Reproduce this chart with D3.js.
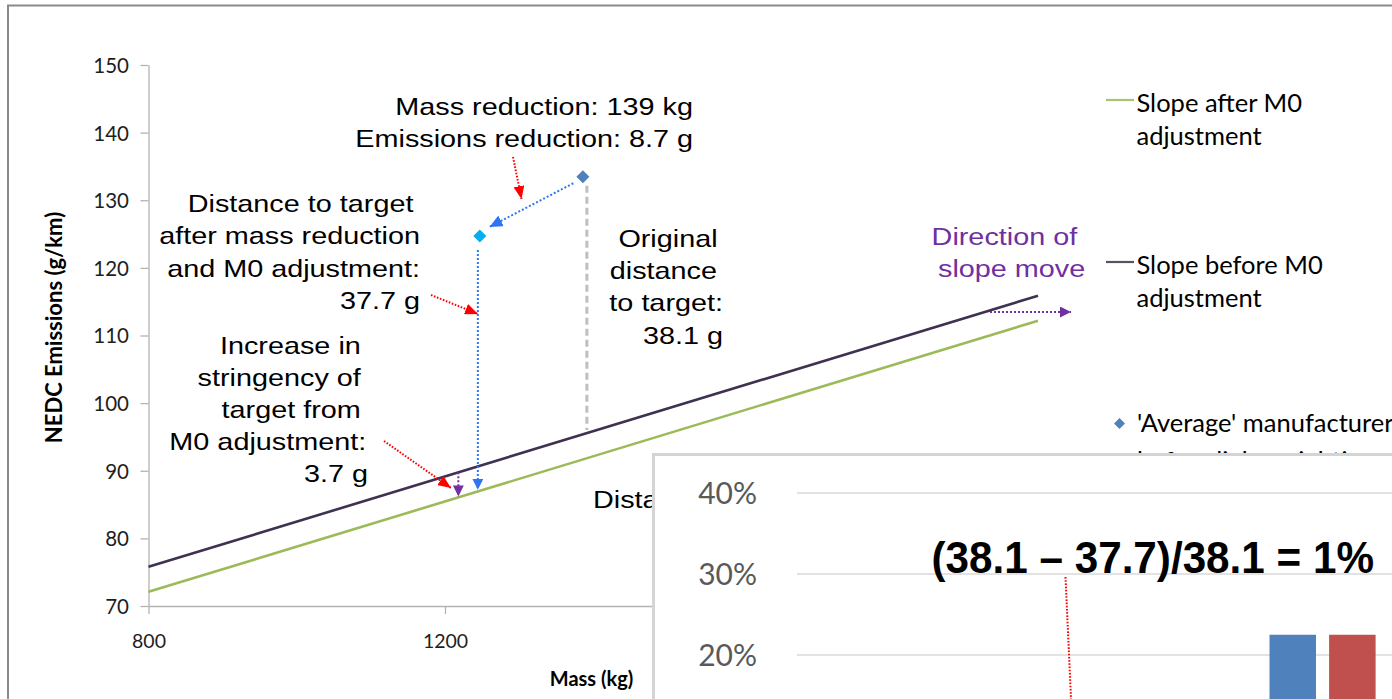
<!DOCTYPE html>
<html>
<head>
<meta charset="utf-8">
<script src="https://cdn.jsdelivr.net/npm/d3@7"></script>
<style>
  html, body { margin: 0; padding: 0; background: #fff; overflow: hidden; }
  svg { display: block; }
</style>
</head>
<body>
<svg id="chart" width="1392" height="699"></svg>
<script>
// ---- Data -------------------------------------------------------------
// Axis ticks (labels that stay visible beside the inset)
const massTicks = [800, 1200];
const emissionTicks = [70, 80, 90, 100, 110, 120, 130, 140, 150];

// CO2 target lines: mass (kg) against NEDC emissions (g/km)
const slopeMass = [800, 2000];
const slopeBefore = [75.8, 115.88];
const slopeAfter = [72.1, 112.18];

// 'Average' manufacturer before and after lightweighting
const pointMass = [1386, 1247];
const pointEmissions = [133.47, 124.73];

// Mass at which the target shift is marked
const shiftMass = 1218;

// Inset bar chart (share, %)
const insetTicks = [20, 30, 40];
const insetSeries = ["Before", "After"];
const insetValues = [22.5, 22.5];

// ---- Setup ------------------------------------------------------------
const svg = d3.select("#chart");
const W = 1392, H = 699;

const COL = {
  green: "#9bbb59",
  purple: "#3f3151",
  violet: "#7030a0",
  steel: "#4f81bd",
  cyan: "#00b0f0",
  blue: "#2f74f2",
  red: "#ff0000",
  grey: "#bfbfbf",
  axis: "#b3b3b3",
  barRed: "#c0504d"
};
const ARIAL = "'Liberation Sans', Arial, sans-serif";
const CALIBRI = "Lato, 'Open Sans', sans-serif";

svg.append("rect").attr("width", W).attr("height", H).attr("fill", "#fff");

// frame of the slide
svg.append("rect")
  .attr("x", 8).attr("y", 5.5).attr("width", W + 20).attr("height", H + 20)
  .attr("fill", "none").attr("stroke", "#8a8a8a").attr("stroke-width", 2);

// arrowhead markers
const defs = svg.append("defs");
function marker(id, color, len, wid) {
  defs.append("marker")
    .attr("id", id)
    .attr("markerUnits", "userSpaceOnUse")
    .attr("markerWidth", len).attr("markerHeight", wid)
    .attr("refX", len).attr("refY", wid / 2)
    .attr("orient", "auto")
    .append("path")
    .attr("d", `M0,0L${len},${wid / 2}L0,${wid}Z`)
    .attr("fill", color);
}
marker("head-red", COL.red, 13, 11);
marker("head-blue", COL.blue, 11, 11);
marker("head-blue-lg", COL.blue, 13, 12);
marker("head-violet", COL.violet, 11, 11);

// the inset panel hides whatever lies beneath it
defs.append("clipPath").attr("id", "left-of-inset")
  .append("rect").attr("x", 0).attr("y", 0).attr("width", 652).attr("height", H);

// multi-line text helper (sx stretches glyphs horizontally)
function addText(parent, x, y, lines, o) {
  const t = parent.append("text")
    .attr("transform", `translate(${x},${y}) scale(${o.sx || 1},1)`)
    .attr("text-anchor", o.anchor || "start")
    .attr("font-family", o.family)
    .attr("font-size", o.size)
    .attr("font-weight", o.weight || "normal")
    .attr("fill", o.fill || "#000");
  lines.forEach((s, i) => {
    const l = typeof s === "string" ? { t: s, dx: 0 } : s;
    t.append("tspan").attr("x", l.dx || 0).attr("y", i * (o.lh || 0)).text(l.t);
  });
  return t;
}

// ---- Main chart -------------------------------------------------------
const x = d3.scaleLinear().domain([800, 2000]).range([148.5, 1038]);
const y = d3.scaleLinear().domain([70, 150]).range([606, 65]);
const before = d3.scaleLinear().domain(slopeMass).range(slopeBefore);
const after = d3.scaleLinear().domain(slopeMass).range(slopeAfter);

const gx = svg.append("g").attr("transform", `translate(0,${y(70)})`)
  .call(d3.axisBottom(x).tickValues(massTicks).tickFormat(d3.format("d"))
    .tickSize(8).tickSizeOuter(0));
const gy = svg.append("g").attr("transform", `translate(${x(800)},0)`)
  .call(d3.axisLeft(y).tickValues(emissionTicks).tickSize(8).tickSizeOuter(0));

[gx, gy].forEach(g => {
  g.select(".domain").attr("stroke", COL.axis).attr("stroke-width", 1.3);
  g.selectAll(".tick line").attr("stroke", COL.axis).attr("stroke-width", 1.3);
  g.selectAll(".tick text")
    .attr("font-family", CALIBRI).attr("fill", "#1e1e1e");
});
gx.selectAll(".tick text").attr("font-size", 19.5).attr("y", 42).attr("dy", 0);
gy.selectAll(".tick text").attr("font-size", 20.5).attr("x", -19.5).attr("dy", "0.36em");

// axis titles
addText(svg, 0, 0, ["NEDC Emissions (g/km)"], {
  family: CALIBRI, size: 22, weight: "bold", anchor: "middle"
}).attr("transform", "translate(61.5,327.5) rotate(-90)");
addText(svg, 591.5, 686, ["Mass (kg)"], {
  family: CALIBRI, size: 20, weight: "bold", anchor: "middle"
});

// target lines
const line = d3.line().x(d => x(d[0])).y(d => y(d[1]));
const seriesLines = [
  { values: slopeBefore, color: COL.purple },
  { values: slopeAfter, color: COL.green }
];
svg.selectAll(".slope").data(seriesLines).join("path")
  .attr("class", "slope")
  .attr("d", s => line(slopeMass.map((m, i) => [m, s.values[i]])))
  .attr("fill", "none").attr("stroke", s => s.color).attr("stroke-width", 2.6);

// original distance to target (grey dashed)
const m0 = pointMass[0], m1 = pointMass[1];
svg.append("line")
  .attr("x1", x(m0) + 4).attr("x2", x(m0) + 4)
  .attr("y1", y(pointEmissions[0]) + 9).attr("y2", y(before(m0 + 6)) - 3)
  .attr("stroke", COL.grey).attr("stroke-width", 3).attr("stroke-dasharray", "7,4");

// distance after mass reduction (blue dotted)
svg.append("line")
  .attr("x1", x(m1) - 2).attr("x2", x(m1) - 2)
  .attr("y1", y(pointEmissions[1]) + 14).attr("y2", y(after(m1)) - 1)
  .attr("stroke", COL.blue).attr("stroke-width", 2).attr("stroke-dasharray", "2,2")
  .attr("marker-end", "url(#head-blue)");

// mass reduction move (blue dotted diagonal)
{
  const p0 = [x(m0), y(pointEmissions[0])], p1 = [x(m1), y(pointEmissions[1])];
  const dx = p1[0] - p0[0], dy = p1[1] - p0[1], len = Math.hypot(dx, dy);
  const ux = dx / len, uy = dy / len;
  svg.append("line")
    .attr("x1", p0[0] + ux * 11).attr("y1", p0[1] + uy * 11 + 1)
    .attr("x2", p1[0] - ux * 10 + 1).attr("y2", p1[1] - uy * 10 - 4)
    .attr("stroke", COL.blue).attr("stroke-width", 2).attr("stroke-dasharray", "2,2")
    .attr("marker-end", "url(#head-blue-lg)");
}

// shift of the target (violet dotted)
svg.append("line")
  .attr("x1", x(shiftMass)).attr("x2", x(shiftMass))
  .attr("y1", y(before(shiftMass))).attr("y2", y(after(shiftMass)) - 1)
  .attr("stroke", COL.violet).attr("stroke-width", 2).attr("stroke-dasharray", "2,2")
  .attr("marker-end", "url(#head-violet)");

// direction of slope move
svg.append("line")
  .attr("x1", 990).attr("x2", 1071).attr("y1", 312).attr("y2", 312)
  .attr("stroke", COL.violet).attr("stroke-width", 2).attr("stroke-dasharray", "2,2")
  .attr("marker-end", "url(#head-violet)");

// red call-out arrows
const callouts = [
  [513, 157, 521.5, 199],
  [431, 295, 478, 314],
  [384, 441, 451, 488]
];
svg.selectAll(".callout").data(callouts).join("line")
  .attr("class", "callout")
  .attr("x1", d => d[0]).attr("y1", d => d[1]).attr("x2", d => d[2]).attr("y2", d => d[3])
  .attr("stroke", COL.red).attr("stroke-width", 2).attr("stroke-dasharray", "1.6,1.6")
  .attr("marker-end", "url(#head-red)");

// manufacturer points
const diamond = r => `M0,${-r}L${r},0L0,${r}L${-r},0Z`;
svg.selectAll(".pt").data(pointMass).join("path")
  .attr("class", "pt")
  .attr("d", diamond(6.5))
  .attr("transform", (m, i) => `translate(${x(m)},${y(pointEmissions[i])})`)
  .attr("fill", (m, i) => i === 0 ? COL.steel : COL.cyan);

// annotations
const ann = { family: ARIAL, size: 24, sx: 1.2, anchor: "end" };
addText(svg, 693, 115, ["Mass reduction: 139 kg", "Emissions reduction: 8.7 g"],
  { ...ann, lh: 32 });
addText(svg, 420, 212, [{ t: "Distance to target", dx: -5.5 }, "after mass reduction",
  "and M0 adjustment:", "37.7 g"], { ...ann, lh: 32.5 });
addText(svg, 723, 247, [{ t: "Original", dx: -4.5 }, { t: "distance", dx: -5 },
  "to target:", "38.1 g"], { ...ann, lh: 32.2 });
addText(svg, 368, 353.5, [{ t: "Increase in", dx: -6 }, { t: "stringency of", dx: -6 },
  { t: "target from", dx: -6 }, { t: "M0 adjustment:", dx: -1.5 }, "3.7 g"],
  { ...ann, lh: 32.1 });
addText(svg, 1008, 245, [{ t: "Direction of", dx: -3 }, { t: "slope move", dx: 3 }],
  { ...ann, anchor: "middle", lh: 32, fill: COL.violet });
addText(svg.append("g").attr("clip-path", "url(#left-of-inset)"), 593, 508,
  ["Distance"], { ...ann, anchor: "start" });

// legend
const legendFont = { family: CALIBRI, size: 25.5, lh: 33 };
const legend = [
  { color: COL.green, y: 100, lines: ["Slope after M0", "adjustment"] },
  { color: COL.purple, y: 262, lines: ["Slope before M0", "adjustment"] }
];
legend.forEach(l => {
  svg.append("line").attr("x1", 1106).attr("x2", 1134).attr("y1", l.y).attr("y2", l.y)
    .attr("stroke", l.color).attr("stroke-width", 2.2).attr("opacity", 0.85);
  addText(svg, 1136.5, l.y + 12, l.lines, legendFont);
});
svg.append("path").attr("d", diamond(5.5))
  .attr("transform", "translate(1119.5,423.5)").attr("fill", COL.steel);
addText(svg, 1137, 432, ["'Average' manufacturer", "before lightweighting"],
  { ...legendFont, lh: 38 });

// ---- Inset bar chart ---------------------------------------------------
const inset = svg.append("g");
inset.append("rect")
  .attr("x", 653.5).attr("y", 454.5).attr("width", 800).attr("height", 400)
  .attr("fill", "#fff").attr("stroke", "#d4d4d4").attr("stroke-width", 3);

const yi = d3.scaleLinear().domain([0, 40]).range([817, 493]);
const xi = d3.scaleBand().domain(insetSeries).range([1269.5, 1375.6]).paddingInner(0.22);

inset.selectAll(".grid").data(insetTicks).join("line")
  .attr("class", "grid")
  .attr("x1", 797).attr("x2", W).attr("y1", d => yi(d)).attr("y2", d => yi(d))
  .attr("stroke", "#d9d9d9").attr("stroke-width", 1.6);

inset.selectAll(".ilabel").data(insetTicks).join("text")
  .attr("class", "ilabel")
  .attr("x", 757).attr("y", d => yi(d)).attr("dy", "0.36em")
  .attr("text-anchor", "end")
  .attr("font-family", CALIBRI).attr("font-size", 30).attr("fill", "#595959")
  .text(d => d + "%");

inset.selectAll(".bar").data(insetValues).join("rect")
  .attr("class", "bar")
  .attr("x", (v, i) => xi(insetSeries[i]))
  .attr("width", xi.bandwidth())
  .attr("y", v => yi(v))
  .attr("height", v => yi(0) - yi(v))
  .attr("fill", (v, i) => i === 0 ? COL.steel : COL.barRed);

inset.append("line")
  .attr("x1", 1065.5).attr("y1", 577).attr("x2", 1072).attr("y2", 720)
  .attr("stroke", COL.red).attr("stroke-width", 2).attr("stroke-dasharray", "1.6,1.6");

addText(inset, 931.5, 573, ["(38.1 – 37.7)/38.1 = 1%"],
  { family: ARIAL, size: 44, weight: "bold", sx: 0.96 });
</script>
</body>
</html>
